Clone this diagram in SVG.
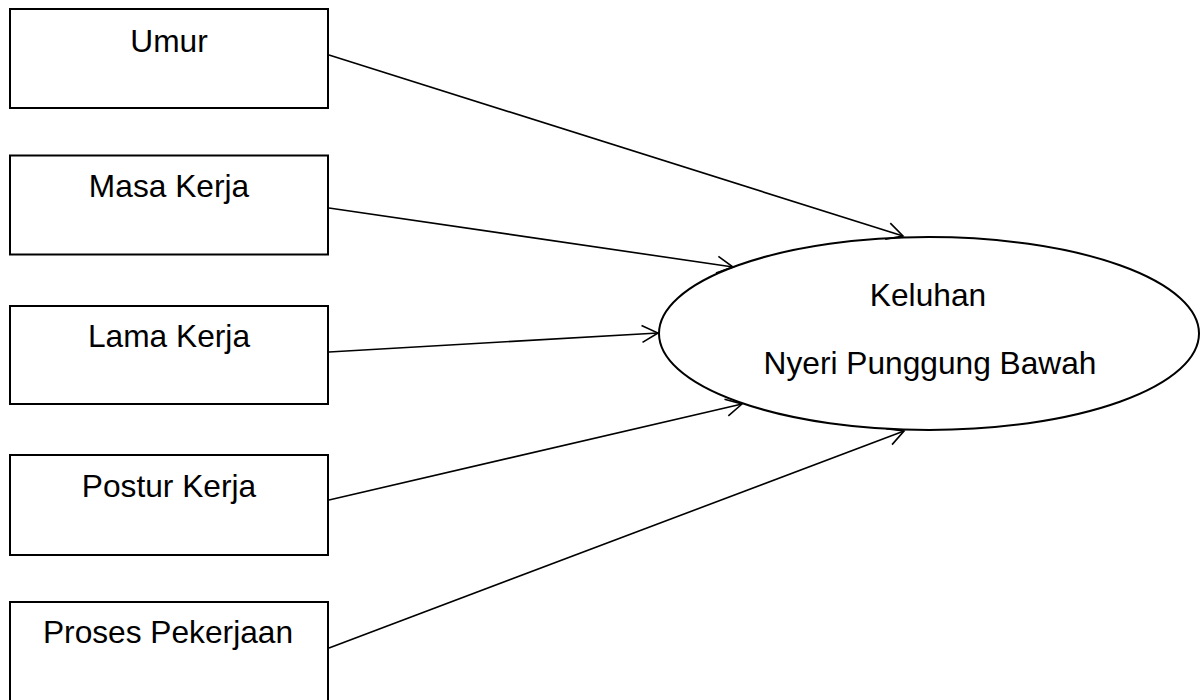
<svg xmlns="http://www.w3.org/2000/svg" width="1204" height="700" viewBox="0 0 1204 700">
<defs>
<marker id="arr" markerUnits="userSpaceOnUse" markerWidth="24" markerHeight="24" viewBox="-20 -12 24 24" refX="0" refY="0" orient="auto">
<path d="M-16,-8.5 L0,0 L-16,8.5" fill="none" stroke="#000" stroke-width="1.6"/>
</marker>
</defs>
<style>
.box{fill:#fff;stroke:#000;stroke-width:2}
.lbl{font-family:"Liberation Sans",Arial,sans-serif;font-size:31.7px;fill:#000;text-anchor:middle}
.edge{fill:none;stroke:#000;stroke-width:1.6;marker-end:url(#arr)}
</style>
<rect width="1204" height="700" fill="#fff"/>
<g id="n-umur"><rect class="box" x="10" y="9" width="318" height="99"/><text class="lbl" x="169" y="52">Umur</text></g>
<g id="n-masa"><rect class="box" x="10" y="155.5" width="318" height="99"/><text class="lbl" x="169" y="197">Masa Kerja</text></g>
<g id="n-lama"><rect class="box" x="10" y="306" width="318" height="98"/><text class="lbl" x="169" y="347">Lama Kerja</text></g>
<g id="n-postur"><rect class="box" x="10" y="455" width="318" height="100"/><text class="lbl" x="169" y="497">Postur Kerja</text></g>
<g id="n-proses"><rect class="box" x="10" y="602" width="318" height="100"/><text class="lbl" x="168" y="643">Proses Pekerjaan</text></g>
<g id="n-keluhan"><ellipse cx="929" cy="333.5" rx="270" ry="96.5" fill="#fff" stroke="#000" stroke-width="2"/><text class="lbl" x="928" y="306">Keluhan</text><text class="lbl" x="930" y="374">Nyeri Punggung Bawah</text></g>
<g id="connectors">
<line class="edge" x1="329" y1="55" x2="903" y2="236"/>
<line class="edge" x1="329" y1="208" x2="733" y2="267"/>
<line class="edge" x1="329" y1="352" x2="658" y2="333"/>
<line class="edge" x1="329" y1="500" x2="742" y2="404"/>
<line class="edge" x1="329" y1="648" x2="904" y2="431"/>
</g>
</svg>
